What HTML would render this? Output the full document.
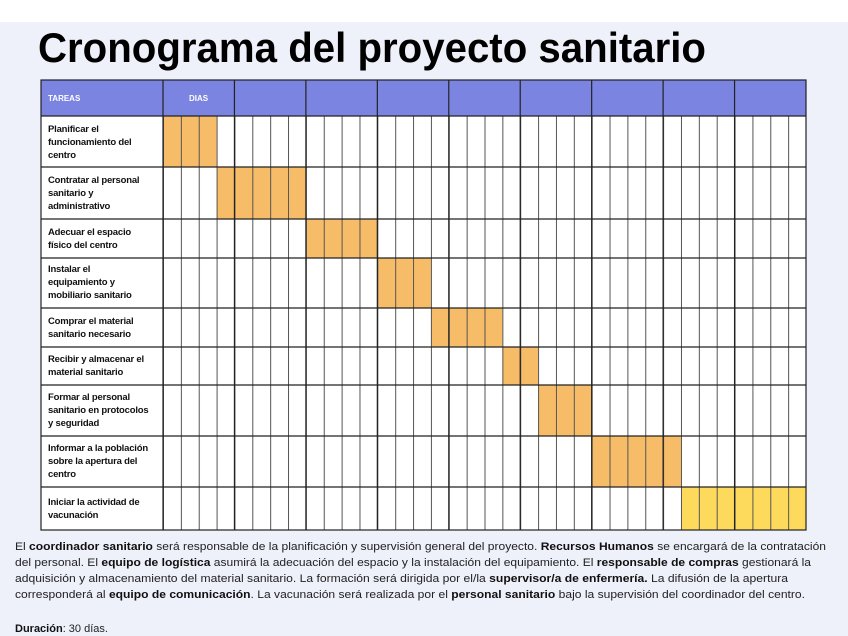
<!DOCTYPE html>
<html><head><meta charset="utf-8"><style>
html,body{margin:0;padding:0;background:#fff}
svg{display:block}
.t{font-family:"Liberation Sans",sans-serif;font-size:9.5px;font-weight:bold;fill:#111;letter-spacing:-0.2px}
.p{font-family:"Liberation Sans",sans-serif;font-size:11px;fill:#222}
.p tspan.b{font-weight:bold;fill:#111}
</style></head><body>
<svg width="848" height="636" viewBox="0 0 848 636" xmlns="http://www.w3.org/2000/svg">
<defs>
<pattern id="dl" patternUnits="userSpaceOnUse" x="163" y="0" width="17.8611" height="636">
<rect x="0" y="0" width="1" height="636" fill="#555"/>
</pattern>
</defs>
<rect x="0" y="22" width="848" height="614" fill="#eef0fa"/>
<text x="38" y="62" font-family="Liberation Sans,sans-serif" font-weight="bold" font-size="42" fill="#000" textLength="668" lengthAdjust="spacingAndGlyphs">Cronograma del proyecto sanitario</text>
<!-- table -->
<rect x="41" y="80" width="765" height="450" fill="#fff"/>
<rect x="41" y="80" width="765" height="36" fill="#7b84e0"/>
<g fill="#f7bc67">
<rect x="163" y="116" width="53.58" height="51"/>
<rect x="216.58" y="167" width="89.31" height="52"/>
<rect x="305.89" y="219" width="71.44" height="39"/>
<rect x="377.33" y="258" width="53.59" height="50"/>
<rect x="430.92" y="308" width="71.44" height="39"/>
<rect x="502.36" y="347" width="35.72" height="38"/>
<rect x="538.08" y="385" width="53.59" height="51"/>
<rect x="591.67" y="436" width="89.3" height="51"/>
</g>
<rect x="680.97" y="487" width="125.03" height="43" fill="#fdda5c"/>
<rect x="163" y="116" width="643" height="414" fill="url(#dl)"/>
<g stroke="#222" stroke-width="1.2" fill="none">
<rect x="41" y="80" width="765" height="450"/>
<path d="M163 80V530M234.44 80V530M305.89 80V530M377.33 80V530M448.78 80V530M520.22 80V530M591.67 80V530M663.11 80V530M734.56 80V530"/>
<path d="M41 116H806M41 167H806M41 219H806M41 258H806M41 308H806M41 347H806M41 385H806M41 436H806M41 487H806"/>
</g>
<text x="48" y="101" font-family="Liberation Sans,sans-serif" font-size="8" font-weight="bold" fill="#fff">TAREAS</text>
<text x="189" y="101" font-family="Liberation Sans,sans-serif" font-size="8" font-weight="bold" fill="#fff">DIAS</text>
<text class="t"><tspan x="48" y="132">Planificar el</tspan><tspan x="48" y="145">funcionamiento del</tspan><tspan x="48" y="158">centro</tspan></text>
<text class="t"><tspan x="48" y="183">Contratar al personal</tspan><tspan x="48" y="196">sanitario y</tspan><tspan x="48" y="209">administrativo</tspan></text>
<text class="t"><tspan x="48" y="235">Adecuar el espacio</tspan><tspan x="48" y="248">físico del centro</tspan></text>
<text class="t"><tspan x="48" y="272">Instalar el</tspan><tspan x="48" y="285">equipamiento y</tspan><tspan x="48" y="298">mobiliario sanitario</tspan></text>
<text class="t"><tspan x="48" y="324">Comprar el material</tspan><tspan x="48" y="337">sanitario necesario</tspan></text>
<text class="t"><tspan x="48" y="362">Recibir y almacenar el</tspan><tspan x="48" y="375">material sanitario</tspan></text>
<text class="t"><tspan x="48" y="400">Formar al personal</tspan><tspan x="48" y="413">sanitario en protocolos</tspan><tspan x="48" y="426">y seguridad</tspan></text>
<text class="t"><tspan x="48" y="451">Informar a la población</tspan><tspan x="48" y="464">sobre la apertura del</tspan><tspan x="48" y="477">centro</tspan></text>
<text class="t"><tspan x="48" y="505">Iniciar la actividad de</tspan><tspan x="48" y="518">vacunación</tspan></text>
<!-- paragraph -->
<text class="p" x="15" y="550" textLength="811" lengthAdjust="spacingAndGlyphs">El <tspan class="b">coordinador sanitario</tspan> será responsable de la planificación y supervisión general del proyecto. <tspan class="b">Recursos Humanos</tspan> se encargará de la contratación</text>
<text class="p" x="15" y="566" textLength="796" lengthAdjust="spacingAndGlyphs">del personal. El <tspan class="b">equipo de logística</tspan> asumirá la adecuación del espacio y la instalación del equipamiento. El <tspan class="b">responsable de compras</tspan> gestionará la</text>
<text class="p" x="15" y="582" textLength="773" lengthAdjust="spacingAndGlyphs">adquisición y almacenamiento del material sanitario. La formación será dirigida por el/la <tspan class="b">supervisor/a de enfermería.</tspan> La difusión de la apertura</text>
<text class="p" x="15" y="598" textLength="790" lengthAdjust="spacingAndGlyphs">corresponderá al <tspan class="b">equipo de comunicación</tspan>. La vacunación será realizada por el <tspan class="b">personal sanitario</tspan> bajo la supervisión del coordinador del centro.</text>
<text class="p" x="15" y="632"><tspan class="b">Duración</tspan>: 30 días.</text>
</svg>
</body></html>
